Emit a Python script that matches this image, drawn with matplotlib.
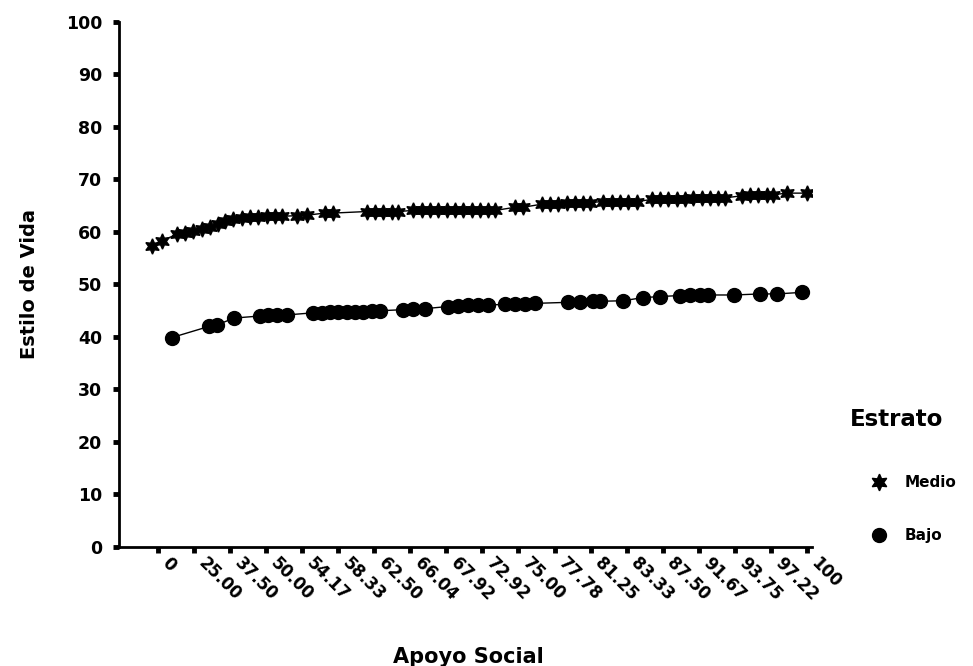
import matplotlib
matplotlib.use('Agg')
import matplotlib.pyplot as plt
import matplotlib.transforms as mtransforms
from matplotlib.lines import Line2D

# Etiquetas del eje X (categorias de Apoyo Social)
x_labels = ['0', '25.00', '37.50', '50.00', '54.17', '58.33', '62.50', '66.04',
            '67.92', '72.92', '75.00', '77.78', '81.25', '83.33', '87.50',
            '91.67', '93.75', '97.22', '100']
y_ticks = [0, 10, 20, 30, 40, 50, 60, 70, 80, 90, 100]

# Estrato medio (posicion sobre el eje de categorias, estilo de vida)
medio_x = [-0.17, 0.11, 0.53, 0.75, 0.97, 1.22, 1.44, 1.66, 1.86, 2.08, 2.33,
           2.55, 2.77, 3.02, 3.25, 3.44, 3.86, 4.13, 4.63, 4.86, 5.80, 6.02,
           6.24, 6.49, 6.66, 7.07, 7.32, 7.55, 7.77, 8.02, 8.24, 8.46, 8.71,
           8.93, 9.15, 9.35, 9.90, 10.12, 10.65, 10.87, 11.10, 11.35, 11.57,
           11.79, 11.98, 12.34, 12.59, 12.82, 13.04, 13.29, 13.70, 13.93,
           14.15, 14.40, 14.62, 14.84, 15.09, 15.31, 15.53, 15.73, 16.20,
           16.42, 16.64, 16.89, 17.06, 17.45, 18.00]
medio_y = [57.4, 58.3,
           59.6, 59.9, 60.2, 60.6, 61.0, 61.5, 62.0,
           62.5, 62.7, 62.8, 62.9, 63.0, 63.0, 63.0,
           63.1, 63.2,
           63.6, 63.6,
           63.9, 63.9, 63.9, 63.9, 63.9,
           64.1, 64.1, 64.1, 64.1, 64.1, 64.1, 64.1, 64.1, 64.1, 64.1, 64.1,
           64.7, 64.7,
           65.3, 65.4, 65.4, 65.5, 65.5, 65.6, 65.6,
           65.8, 65.8, 65.8, 65.8, 65.8,
           66.2, 66.2, 66.3, 66.3, 66.3, 66.4, 66.4, 66.4, 66.5, 66.5,
           66.9, 67.0, 67.0, 67.0, 67.1,
           67.4, 67.4]

# Estrato bajo
bajo_x = [0.39, 1.41, 1.64, 2.11, 2.83, 3.05, 3.30, 3.58, 4.30, 4.55, 4.77,
          4.99, 5.24, 5.46, 5.69, 5.94, 6.16, 6.80, 7.07, 7.41, 8.04, 8.32,
          8.60, 8.88, 9.15, 9.63, 9.90, 10.18, 10.46, 11.37, 11.71, 12.07,
          12.26, 12.90, 13.45, 13.93, 14.48, 14.76, 15.03, 15.26, 15.98,
          16.70, 17.17, 17.86]
bajo_y = [39.9, 42.0, 42.3, 43.6, 44.0, 44.1, 44.2, 44.2, 44.6, 44.6, 44.7,
          44.7, 44.7, 44.8, 44.8, 45.0, 45.0, 45.2, 45.3, 45.4, 45.8, 45.9,
          46.0, 46.0, 46.1, 46.2, 46.3, 46.3, 46.4, 46.6, 46.7, 46.8, 46.8,
          46.9, 47.5, 47.7, 47.9, 48.0, 48.0, 48.0, 48.0, 48.2, 48.2, 48.5]


def main():
    plt.rcParams['font.family'] = ['DejaVu Sans']
    plt.rcParams['font.weight'] = 'bold'

    fig = plt.figure(figsize=(9.73, 6.66), dpi=100)
    ax = fig.add_axes([0.1223, 0.1787, 0.7122, 0.7883])

    estrella = (6, 1, 0)
    ax.plot(medio_x, medio_y, color='black', linewidth=1.0,
            marker=estrella, markersize=11, markerfacecolor='black',
            markeredgecolor='black', zorder=3)
    ax.plot(bajo_x, bajo_y, color='black', linewidth=1.0,
            marker='o', markersize=10, markerfacecolor='black',
            markeredgecolor='black', zorder=3)

    ax.set_xlim(-1.08, 18.14)
    ax.set_ylim(0, 100)

    for lado in ['top', 'right']:
        ax.spines[lado].set_visible(False)
    for lado in ['left', 'bottom']:
        ax.spines[lado].set_linewidth(2)

    ax.set_yticks(y_ticks)
    ax.set_yticklabels([str(v) for v in y_ticks], fontsize=12.5,
                       fontweight='bold')
    ax.set_xticks(range(len(x_labels)))
    ax.set_xticklabels(x_labels, fontsize=12, fontweight='bold',
                       rotation=-45, ha='left', va='center',
                       rotation_mode='anchor')
    ax.tick_params(axis='both', direction='out', length=4, width=3.5)
    ax.tick_params(axis='x', pad=6)
    ax.tick_params(axis='y', pad=8)

    # desplazar un poco las etiquetas rotadas hacia la derecha
    desplaza = mtransforms.ScaledTranslation(5 / 72, 0, fig.dpi_scale_trans)
    for lbl in ax.get_xticklabels():
        lbl.set_transform(lbl.get_transform() + desplaza)

    ax.set_ylabel('Estilo de Vida', fontsize=14, fontweight='bold')
    ax.yaxis.set_label_coords(-0.115, 0.5)
    ax.set_xlabel('Apoyo Social', fontsize=15, fontweight='bold')
    ax.xaxis.set_label_coords(0.504, -0.19)

    # Leyenda
    fig.text(850 / 973, 1 - 420 / 666, 'Estrato', fontsize=16.5,
             fontweight='bold', ha='left', va='center')
    manijas = [
        Line2D([], [], linestyle='none', marker=estrella, markersize=12,
               color='black'),
        Line2D([], [], linestyle='none', marker='o', markersize=10,
               color='black'),
    ]
    fig.legend(manijas, ['Medio', 'Bajo'], loc='center left',
               bbox_to_anchor=(868 / 973, 1 - 509 / 666),
               frameon=False, borderpad=0, borderaxespad=0,
               handlelength=1.5, handletextpad=0.9, labelspacing=2.5,
               prop={'size': 11, 'weight': 'bold'})

    fig.savefig('out.png', dpi=100)


if __name__ == "__main__":
    main()
